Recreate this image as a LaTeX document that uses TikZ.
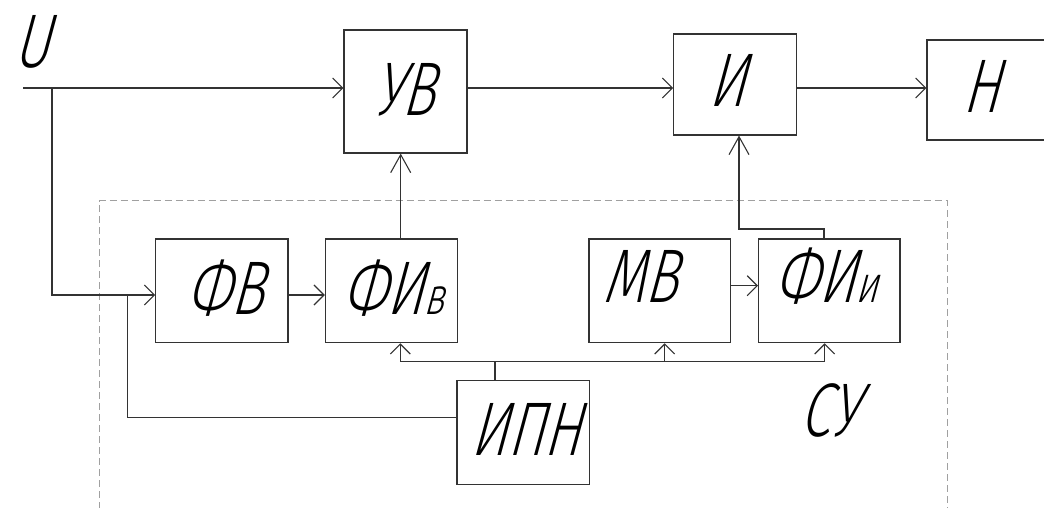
\documentclass[tikz,border=0pt]{standalone}
\usepackage{fontspec}
\setmainfont{Fira Sans Light}[FakeSlant=0.27,FakeStretch=0.72]
\usetikzlibrary{arrows.meta}
\definecolor{ln}{HTML}{333333}
\definecolor{dsh}{HTML}{A0A0A0}
\begin{document}
\begin{tikzpicture}[x=1pt,y=-1pt,
  blk/.style={draw=ln,line width=1.1pt,inner sep=0pt,rectangle},
  lbl/.style={font=\fontsize{76}{80}\selectfont,anchor=base,inner sep=0pt},
  con/.style={draw=ln,line width=1.1pt},
  arr/.style={con,-{Straight Barb[length=10pt,width=20pt]}},
  arrl/.style={con,-{Straight Barb[length=18pt,width=20pt]}},
  grp/.style={draw=dsh,line width=1pt,dash pattern=on 7pt off 4pt}]
\useasboundingbox (0,0) rectangle (1044,508);
% boxes
\node[blk,minimum width=123pt,minimum height=123pt] (uv) at (405.5,91.5) {};
\node[blk,minimum width=122.3pt,minimum height=101pt] (ii) at (734.9,84.5) {};
\node[blk,minimum width=123pt,minimum height=100pt] (n) at (988.5,90) {};
\node[blk,minimum width=132.3pt,minimum height=103.7pt] (fv) at (221.85,290.85) {};
\node[blk,minimum width=132pt,minimum height=103.7pt] (fiv) at (391.3,290.85) {};
\node[blk,minimum width=141.7pt,minimum height=103.7pt] (mv) at (659.85,290.85) {};
\node[blk,minimum width=141.5pt,minimum height=103.7pt] (fii) at (829.25,290.85) {};
\node[blk,minimum width=132.3pt,minimum height=103.6pt] (ipn) at (523.15,432.5) {};
% texts
\node[lbl] (tu) at (31,68) {U};
\node[lbl] (tuv) at (404,116) {УВ};
\node[lbl] (tii) at (727,107) {И};
\node[lbl] (tn) at (981,113) {Н};
\node[lbl] (tfv) at (225,314) {ФВ};
\node[lbl] (tfiv) at (393,314) {ФИ{\fontsize{52}{52}\selectfont в}};
\node[lbl] (tmv) at (639.5,302) {МВ};
\node[lbl] (tfii) at (826,302) {ФИ{\fontsize{52}{52}\selectfont и}};
\node[lbl] (tipn) at (525.7,455) {ИПН};
\node[lbl] (tsu) at (828.5,436) {СУ};
% group frame
\draw[grp] (99,520) -- (99,200.7) -- (947,200.7) -- (947,520);
% connectors
\coordinate (in) at (23,88);
\coordinate (br) at (52,88);
\coordinate (bus) at (495,361.7);
\draw[arr] (in) -- (uv.west |- in);
\draw[arr] (uv.east |- in) -- (ii.west |- in);
\draw[arr] (ii.east |- in) -- (n.west |- in);
\draw[arr] (br) |- (fv.west |- 0,295);
\draw[arr] (fv.east |- 0,295) -- (fiv.west |- 0,295);
\draw[arrl] (fiv.north -| 400.7,0) -- (uv.south -| 400.7,0);
\draw[arrl] (fii.north -| 824,0) -- (824,229) -| (ii.south -| 739,0);
\draw[arr] (mv.east |- 0,285.7) -- (fii.west |- 0,285.7);
\draw[con] (ipn.north -| bus) -- (bus);
\draw[arr] (bus) -| (fiv.south -| 400.3,0);
\draw[arr] (bus) -| (fii.south -| 824.7,0);
\draw[arr] (664.7,361.7) -- (mv.south -| 664.7,0);
\draw[con] (ipn.west |- 0,417.7) -| (127.7,295);
\end{tikzpicture}
\end{document}
